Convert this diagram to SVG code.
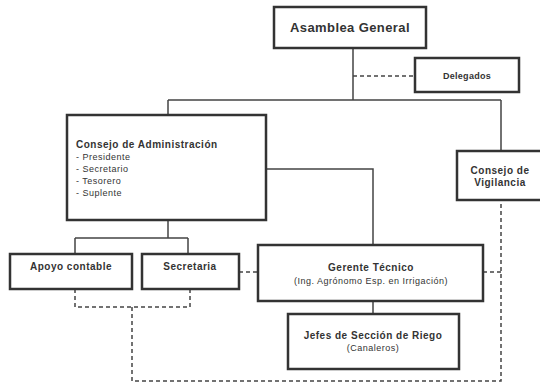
<svg xmlns="http://www.w3.org/2000/svg" width="540" height="383" viewBox="0 0 540 383">
<style>
.box{fill:#fff;stroke:#333;stroke-width:2.5}
.ln{fill:none;stroke:#444;stroke-width:1.5}
.dl{fill:none;stroke:#444;stroke-width:1.5;stroke-dasharray:4 3}
text{font-family:"Liberation Sans",Arial,sans-serif;fill:#333}
.b{font-weight:bold;font-size:10px;letter-spacing:0.5px}
.n{font-size:9px;letter-spacing:0.5px}
</style>
<rect width="540" height="383" fill="#fff"/>
<g id="connectors">
<path class="ln" d="M353 48V100M168 100H501M168 100V115M501 100V151"/>
<path class="ln" d="M266 169H373V245"/>
<path class="ln" d="M168 220V238M75 238H188M75 238V254M188 238V254"/>
<path class="ln" d="M373 301V314"/>
<path class="dl" d="M353 76H415"/>
<path class="dl" d="M239 272H258"/>
<path class="dl" d="M483 272H501"/>
<path class="dl" d="M75 289V307H190V289"/>
<path class="dl" d="M132 307V381H501V200"/>
</g>
<g id="asamblea">
<rect class="box" x="274" y="7" width="152" height="41"/>
<text x="350" y="32" text-anchor="middle" font-weight="bold" font-size="13" letter-spacing="0.4">Asamblea General</text>
</g>
<g id="delegados">
<rect class="box" x="415" y="58" width="104" height="34"/>
<text class="b" x="467" y="79" text-anchor="middle" style="font-size:9px;letter-spacing:0.3px">Delegados</text>
</g>
<g id="consejo-admin">
<rect class="box" x="67" y="115" width="199" height="105"/>
<text class="b" x="76" y="148">Consejo de Administración</text>
<text class="n" x="76" y="160">- Presidente</text>
<text class="n" x="76" y="172">- Secretario</text>
<text class="n" x="76" y="184">- Tesorero</text>
<text class="n" x="76" y="196">- Suplente</text>
</g>
<g id="consejo-vigilancia">
<rect class="box" x="457" y="151" width="85" height="49"/>
<text class="b" x="500" y="174" text-anchor="middle">Consejo de</text>
<text class="b" x="500" y="186" text-anchor="middle">Vigilancia</text>
</g>
<g id="apoyo">
<rect class="box" x="10" y="254" width="122" height="35"/>
<text class="b" x="71" y="270" text-anchor="middle">Apoyo contable</text>
</g>
<g id="secretaria">
<rect class="box" x="142" y="254" width="97" height="35"/>
<text class="b" x="190" y="270" text-anchor="middle">Secretaria</text>
</g>
<g id="gerente">
<rect class="box" x="258" y="245" width="225" height="56"/>
<text class="b" x="371" y="271" text-anchor="middle">Gerente Técnico</text>
<text class="n" x="371" y="284" text-anchor="middle">(Ing. Agrónomo Esp. en Irrigación)</text>
</g>
<g id="jefes">
<rect class="box" x="288" y="314" width="171" height="55"/>
<text class="b" x="373" y="339" text-anchor="middle">Jefes de Sección de Riego</text>
<text class="n" x="373" y="351" text-anchor="middle">(Canaleros)</text>
</g>
</svg>
